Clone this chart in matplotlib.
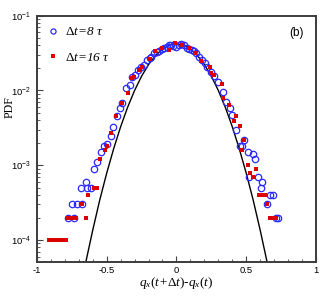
import matplotlib
matplotlib.use("Agg")
import matplotlib.pyplot as plt
from matplotlib.ticker import FixedLocator, LogLocator, NullFormatter

plt.rcParams['font.family'] = ['Liberation Sans', 'DejaVu Sans']
plt.rcParams['mathtext.fontset'] = 'custom'
plt.rcParams['mathtext.rm'] = 'Liberation Serif'
plt.rcParams['mathtext.it'] = 'Liberation Serif:italic'

# dt = 8 tau (open blue circles)
x_dt8 = [-0.774, -0.731, -0.746, -0.710, -0.674, -0.681, -0.638, -0.609, -0.645,
         -0.588, -0.566, -0.538, -0.516, -0.495, -0.466, -0.452, -0.423, -0.401,
         -0.387, -0.358, -0.330, -0.315, -0.294, -0.272, -0.251, -0.229, -0.208,
         -0.193, -0.179, -0.158, -0.140, -0.122, -0.104, -0.086, -0.068, -0.050,
         -0.036, -0.022, 0.0, 0.018, 0.036, 0.054, 0.072, 0.090, 0.108, 0.126,
         0.143, 0.165, 0.186, 0.204, 0.222, 0.251, 0.272, 0.294, 0.330, 0.358,
         0.380, 0.401, 0.423, 0.487, 0.452, 0.473, 0.509, 0.545, 0.566, 0.523,
         0.581, 0.616, 0.609, 0.667, 0.688, 0.645, 0.710, 0.724]
y_dt8 = [2e-4, 2e-4, 3e-4, 3e-4, 3e-4, 5e-4, 5e-4, 5e-4, 6e-4,
         9e-4, 1.1e-3, 1.5e-3, 1.8e-3, 1.9e-3, 2.5e-3, 3.2e-3, 4.5e-3, 5.9e-3,
         6.9e-3, 1.09e-2, 1.19e-2, 1.52e-2, 1.62e-2, 1.85e-2, 2.07e-2, 2.2e-2, 2.57e-2,
         2.7e-2, 2.81e-2, 3.18e-2, 3.3e-2, 3.38e-2, 3.55e-2, 3.71e-2, 3.85e-2, 4.07e-2,
         4.0e-2, 3.94e-2, 3.83e-2, 4.0e-2, 4.2e-2, 4.0e-2, 3.71e-2, 3.6e-2, 3.49e-2, 3.35e-2,
         3.18e-2, 2.81e-2, 2.57e-2, 2.3e-2, 2.07e-2, 1.77e-2, 1.55e-2, 1.31e-2, 9.6e-3, 7.1e-3,
         5.9e-3, 4.7e-3, 3.0e-3, 2.2e-3, 1.8e-3, 1.8e-3, 1.5e-3, 1.4e-3, 1.2e-3, 7e-4,
         7e-4, 6e-4, 5e-4, 4e-4, 4e-4, 3e-4, 2e-4, 2e-4]

# dt = 16 tau (small red squares)
x_dt16 = [-0.91, -0.89, -0.87, -0.85, -0.83, -0.81, -0.79,
          -0.774, -0.760, -0.745, -0.731, -0.717, -0.645, -0.674, -0.631,
          -0.588, -0.566, -0.545, -0.509, -0.495, -0.466, -0.430, -0.387,
          -0.344, -0.315, -0.301, -0.265, -0.244, -0.186, -0.151, -0.100,
          -0.050, -0.007, 0.043, 0.093, 0.136, 0.179, 0.237, 0.251, 0.272,
          0.323, 0.330, 0.373, 0.409, 0.430, 0.452, 0.487, 0.466, 0.509,
          0.530, 0.545, 0.573, 0.588, 0.602, 0.616, 0.631, 0.652,
          0.667, 0.681, 0.695, 0.710]
y_dt16 = [1e-4, 1e-4, 1e-4, 1e-4, 1e-4, 1e-4, 1e-4,
          2e-4, 2e-4, 2e-4, 2e-4, 2e-4, 2e-4, 3e-4, 4e-4,
          5e-4, 5e-4, 1.2e-3, 1.6e-3, 1.8e-3, 2.7e-3, 4.5e-3, 6.9e-3,
          9.3e-3, 1.45e-2, 1.52e-2, 1.9e-2, 2.07e-2, 2.6e-2, 3.4e-2, 3.7e-2,
          3.5e-2, 4.3e-2, 4.1e-2, 3.7e-2, 3.2e-2, 2.5e-2, 2.07e-2, 1.72e-2, 1.62e-2,
          1.23e-2, 8.0e-3, 6.4e-3, 3.9e-3, 4.6e-3, 3.3e-3, 2.2e-3, 1.6e-3, 1.0e-3,
          8e-4, 7e-4, 9e-4, 4e-4, 4e-4, 4e-4, 4e-4, 3e-4,
          2e-4, 2e-4, 2e-4, 2e-4]

# gaussian reference curve
x_gauss = [-0.67, -0.65, -0.60, -0.55, -0.50, -0.45, -0.40, -0.35, -0.30, -0.25,
           -0.20, -0.15, -0.10, -0.05, 0.0, 0.05, 0.10, 0.15, 0.20, 0.25, 0.30,
           0.35, 0.40, 0.45, 0.50, 0.55, 0.60, 0.65, 0.67]
y_gauss = [3.3e-5, 5.0e-5, 1.35e-4, 3.4e-4, 7.8e-4, 1.66e-3, 3.27e-3, 5.95e-3, 1.0e-2, 1.55e-2,
           2.22e-2, 2.93e-2, 3.58e-2, 4.04e-2, 4.2e-2, 4.04e-2, 3.58e-2, 2.93e-2, 2.22e-2, 1.55e-2, 1.0e-2,
           5.95e-3, 3.27e-3, 1.66e-3, 7.8e-4, 3.4e-4, 1.35e-4, 5.0e-5, 3.3e-5]

xtick_vals = [-1, -0.5, 0, 0.5, 1]
xtick_text = ['-1', '-0.5', '0', '0.5', '1']
ytick_vals = [1e-4, 1e-3, 1e-2, 1e-1]
ytick_text = [r'$\mathregular{10^{-4}}$', r'$\mathregular{10^{-3}}$',
              r'$\mathregular{10^{-2}}$', r'$\mathregular{10^{-1}}$']

fig = plt.figure(figsize=(3.32, 2.96), dpi=100)
ax = fig.add_axes([0.111, 0.114, 0.841, 0.833])

ax.plot(x_gauss, y_gauss, color='black', lw=1.0, zorder=2)
ax.plot(x_dt8, y_dt8, ls='none', marker='o', ms=4.6, mfc='none', mec='#2a2aff',
        mew=0.9, label=r'$\Delta$$t$=8 $\tau$', zorder=3)
ax.plot(x_dt16, y_dt16, ls='none', marker='s', ms=2.8, mfc='#dd0000', mec='#dd0000',
        mew=0, label=r'$\Delta$$t$=16 $\tau$', zorder=4)

ax.set_yscale('log')
ax.set_xlim(-1, 1)
ax.set_ylim(5.05e-5, 1e-1)

ax.set_xticks(xtick_vals)
ax.set_xticklabels(xtick_text)
ax.xaxis.set_minor_locator(FixedLocator([i / 10 for i in range(-10, 11)]))
ax.set_yticks(ytick_vals)
ax.set_yticklabels(ytick_text)
ax.yaxis.set_minor_locator(LogLocator(base=10, subs=range(2, 10)))
ax.yaxis.set_minor_formatter(NullFormatter())

ax.tick_params(which='both', direction='in', top=False, right=False,
               labelsize=6.8, color='#444444')
ax.tick_params(axis='y', pad=4)
ax.tick_params(axis='x', pad=3)
ax.tick_params(which='major', length=4.5, width=0.8)
ax.tick_params(which='minor', length=2.5, width=0.6)
for sp in ax.spines.values():
    sp.set_color('#3c3c3c')
    sp.set_linewidth(1.4)

ax.set_xlabel(r'$q_x(t$+$\Delta t)$-$q_x(t)$', fontsize=9.5,
              fontfamily='Liberation Serif', style='italic', labelpad=0)
ax.set_ylabel('PDF', fontsize=8.5, fontfamily='Liberation Serif')
ax.yaxis.set_label_coords(-0.075, 0.63)

ax.text(0.93, 0.93, '(b)', transform=ax.transAxes, ha='center', va='center', fontsize=8.5)

leg = ax.legend(loc='upper left', frameon=False, fontsize=9.5, handlelength=0.8,
                handletextpad=0.5, labelspacing=1.0, borderaxespad=0.4,
                markerscale=0.8)
for t in leg.get_texts():
    t.set_fontfamily('Liberation Serif')
    t.set_style('italic')

fig.savefig('out.png', dpi=100)
